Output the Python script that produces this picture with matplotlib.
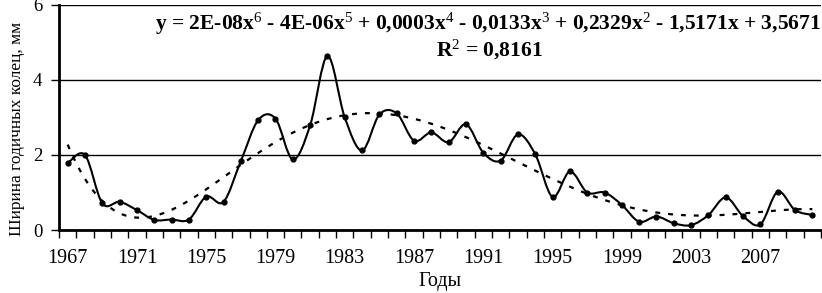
import numpy as np
import matplotlib
matplotlib.use("Agg")
from matplotlib import pyplot as plt
from matplotlib.path import Path
from matplotlib.patches import PathPatch

plt.rcParams['font.family'] = ['Liberation Serif', 'DejaVu Serif']
plt.rcParams['mathtext.fontset'] = 'custom'
plt.rcParams['mathtext.rm'] = 'Liberation Serif'
plt.rcParams['mathtext.it'] = 'Liberation Serif:italic'
plt.rcParams['mathtext.bf'] = 'Liberation Serif:bold'

#
# -1- Data: ring width by year
#

years = list(range(1967, 2011))
width = [1.78, 2.00, 0.71, 0.75, 0.53, 0.27, 0.28, 0.28, 0.89, 0.75,
         1.84, 2.93, 2.97, 1.88, 2.79, 4.64, 3.00, 2.12, 3.08, 3.11,
         2.38, 2.60, 2.34, 2.82, 2.06, 1.85, 2.55, 2.02, 0.88, 1.56,
         1.00, 1.00, 0.67, 0.22, 0.36, 0.18, 0.13, 0.40, 0.87, 0.37,
         0.15, 1.02, 0.53, 0.40]
tick_years = years[::4]
equation = (r"y = 2E-08x$^{6}$ - 4E-06x$^{5}$ + 0,0003x$^{4}$ - 0,0133x$^{3}$"
            r" + 0,2329x$^{2}$ - 1,5171x + 3,5671")
r2_text = r"R$^{2}$ = 0,8161"

#
# -2- Figure
#

fig = plt.figure(figsize=(8.22, 2.93), dpi=100)
ax = fig.add_axes([0.0718, 0.215, 0.927, 0.768])

X = np.arange(len(years), dtype=float)
Y = np.array(width)

# smoothed line (Excel-like bezier through the points)
verts = [(X[0], Y[0])]; codes = [Path.MOVETO]
n = len(X)
for i in range(n - 1):
    p0 = np.array([X[max(i-1, 0)], Y[max(i-1, 0)]])
    p1 = np.array([X[i], Y[i]])
    p2 = np.array([X[i+1], Y[i+1]])
    p3 = np.array([X[min(i+2, n-1)], Y[min(i+2, n-1)]])
    c1 = p1 + (p2 - p0)/6
    c2 = p2 - (p3 - p1)/6
    verts += [tuple(c1), tuple(c2), tuple(p2)]
    codes += [Path.CURVE4]*3
ax.add_patch(PathPatch(Path(verts, codes), fill=False, ec='black', lw=1.5, zorder=3))
ax.plot(X, Y, 'o', color='black', markersize=3.5, zorder=4)

# polynomial trend, degree 6
c = np.polyfit(X + 1, Y, 6)
t = np.linspace(0, n - 1, 300)
ax.plot(t, np.polyval(c, t + 1), color='black', lw=1.6, linestyle=(0, (2.2, 3.6)), zorder=2)

ax.set_xlim(-0.5, n - 0.5)
ax.set_ylim(0, 6)
ax.set_yticks([0, 2, 4, 6])
ax.yaxis.grid(True, color='black', lw=1)
ax.set_axisbelow(True)

ax.set_xticks(X[::4])
ax.set_xticklabels([str(y) for y in tick_years])
ax.set_xticks(np.arange(-0.5, n, 1.0), minor=True)
ax.tick_params(axis='x', which='major', length=0, pad=14, labelsize=14.5)
ax.tick_params(axis='x', which='minor', length=6, width=1, direction='out')
ax.tick_params(axis='y', length=6, width=1, pad=6, labelsize=13.5)

for s in ['top', 'right']:
    ax.spines[s].set_visible(False)
ax.spines['left'].set_linewidth(2)
ax.spines['bottom'].set_linewidth(2)

ax.set_xlabel("Годы", fontsize=14.5, labelpad=2.5)
ax.set_ylabel("Ширина годичных колец, мм", fontsize=12.5)
ax.yaxis.set_label_coords(-0.045, 0.45)

ax.text(0.9995, 0.975, equation, transform=ax.transAxes, ha='right', va='top',
        fontsize=15.5, fontweight='bold')
ax.text(0.635, 0.855, r2_text, transform=ax.transAxes, ha='right', va='top',
        fontsize=15.5, fontweight='bold')

plt.savefig("out.png", dpi=100)
